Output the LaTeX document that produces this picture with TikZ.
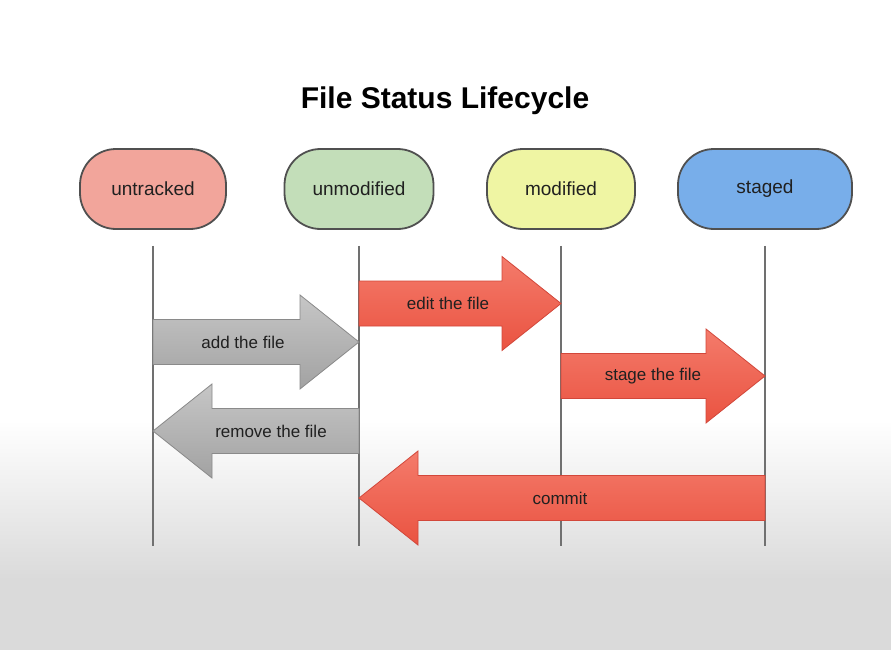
\documentclass[tikz,border=0pt]{standalone}
\usepackage{fontspec}
\setmainfont{Liberation Sans}
\usetikzlibrary{calc}

\definecolor{untrackedfill}{HTML}{F2A59B}
\definecolor{unmodifiedfill}{HTML}{C3DEB9}
\definecolor{modifiedfill}{HTML}{EFF5A3}
\definecolor{stagedfill}{HTML}{78AEEA}
\definecolor{boxline}{HTML}{505050}
\definecolor{lifeline}{HTML}{707070}
\definecolor{redtop}{HTML}{F47B6B}
\definecolor{redbot}{HTML}{EA5341}
\definecolor{redline}{HTML}{D2473A}
\definecolor{graytop}{HTML}{C6C6C6}
\definecolor{graybot}{HTML}{A2A2A2}
\definecolor{grayline}{HTML}{8A8A8A}
\definecolor{bggray}{HTML}{DADADA}
\definecolor{txt}{HTML}{202020}

\begin{document}
\begin{tikzpicture}[x=1pt,y=-1pt,
  state/.style={draw=boxline,line width=1.8pt,rounded corners=36pt,minimum height=80pt,
    text=txt,font=\fontsize{19}{23}\selectfont},
  life/.style={draw=lifeline,line width=1.6pt},
  redarrow/.style={draw=redline,line width=0.8pt,top color=redtop,bottom color=redbot},
  grayarrow/.style={draw=grayline,line width=0.8pt,top color=graytop,bottom color=graybot},
  lbl/.style={text=txt,font=\fontsize{17}{20}\selectfont}]

% background
\fill[white] (0,0) rectangle (891,420);
\shade[top color=white,bottom color=bggray] (0,420) rectangle (891,580);
\fill[bggray] (0,580) rectangle (891,650);
\useasboundingbox (0,0) rectangle (891,650);

\node[text=black,font=\bfseries\fontsize{30}{36}\selectfont] (title) at (445,101) {File Status Lifecycle};

% the four states
\node[state,fill=untrackedfill,minimum width=146pt] (untracked) at (153,189) {untracked};
\node[state,fill=unmodifiedfill,minimum width=149pt] (unmodified) at (359,189) {unmodified};
\node[state,fill=modifiedfill,minimum width=148pt] (modified) at (561,189) {modified};
\node[state,fill=stagedfill,minimum width=174pt] (staged) at (765,189) {staged};

% lifelines
\foreach \st in {untracked,unmodified,modified,staged}
  \draw[life] ([yshift=-16pt]\st.south) coordinate (\st-top) -- ++(0,300) coordinate (\st-end);

% transitions
\foreach \sty/\from/\to/\ym/\name/\txt/\dx in {
    redarrow/unmodified/modified/303.5/editlbl/edit the file/-12,
    grayarrow/untracked/unmodified/342/addlbl/add the file/-13,
    redarrow/modified/staged/376/stagelbl/stage the file/-10,
    grayarrow/unmodified/untracked/431/removelbl/remove the file/15,
    redarrow/staged/unmodified/498/commitlbl/commit/-2}{
  \path (\from-top |- 0,\ym) coordinate (a) (\to-top |- 0,\ym) coordinate (b);
  \draw[\sty] let \p1=(a), \p2=(b), \n1={sign(\x2-\x1)*59} in
    (\x1,\y1+22.5pt) -- (\x2-\n1*1pt,\y1+22.5pt) -- (\x2-\n1*1pt,\y1+47pt) -- (b)
    -- (\x2-\n1*1pt,\y1-47pt) -- (\x2-\n1*1pt,\y1-22.5pt) -- (\x1,\y1-22.5pt) -- cycle;
  \node[lbl] (\name) at ($(a)!0.5!(b)+(\dx,0)$) {\txt};
}

\end{tikzpicture}
\end{document}
